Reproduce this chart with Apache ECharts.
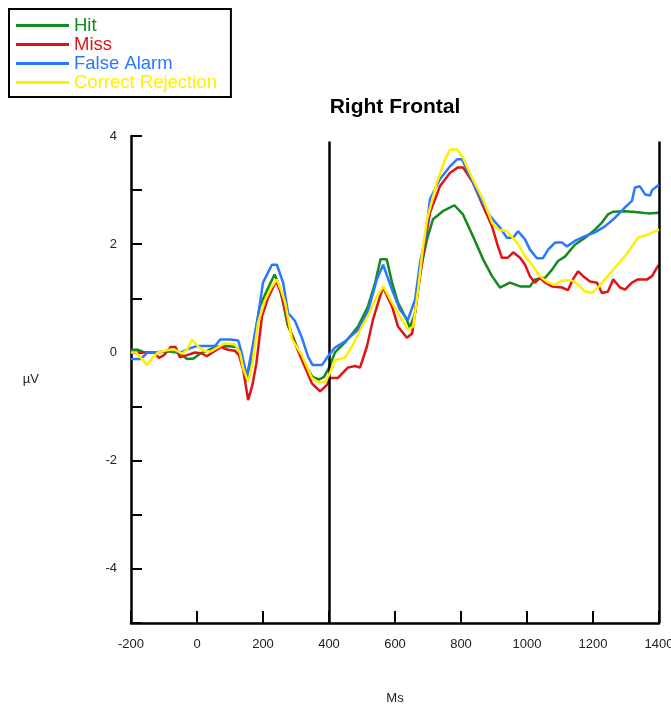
<!DOCTYPE html>
<html>
<head>
<meta charset="utf-8">
<script src="https://cdn.jsdelivr.net/npm/echarts@6/dist/echarts.min.js"></script>
<style>
  html, body { margin: 0; padding: 0; background: #fff; }
  #chart { width: 671px; height: 709px; }
</style>
</head>
<body>
<div id="chart"></div>
<script>
// Right Frontal ERP — four conditions, [ms, µV]
const hit = [[-200,0.05],[-180,0.05],[-160,0.0],[-120,0.0],[-90,0.02],[-60,0.0],[-45,-0.05],[-30,-0.12],[-10,-0.11],[10,-0.02],[30,0.03],[55,0.1],[90,0.12],[120,0.1],[130,0.0],[140,-0.3],[150,-0.54],[160,-0.35],[175,0.3],[190,0.85],[205,1.05],[220,1.25],[235,1.44],[245,1.3],[260,0.95],[275,0.5],[290,0.3],[310,0.0],[330,-0.25],[350,-0.45],[370,-0.5],[385,-0.45],[400,-0.28],[418,0.0],[448,0.18],[488,0.48],[518,0.85],[540,1.29],[556,1.72],[575,1.72],[591,1.29],[609,0.92],[636,0.6],[645,0.46],[661,0.73],[676,1.48],[697,2.09],[715,2.46],[745,2.61],[780,2.72],[806,2.55],[836,2.15],[867,1.72],[894,1.41],[918,1.2],[948,1.29],[979,1.22],[1009,1.22],[1024,1.35],[1055,1.38],[1076,1.53],[1094,1.69],[1115,1.77],[1145,1.99],[1176,2.12],[1206,2.27],[1227,2.4],[1245,2.55],[1261,2.6],[1297,2.61],[1336,2.59],[1367,2.57],[1400,2.58]];

const miss = [[-200,0],[-130,0],[-115,-0.1],[-100,-0.05],[-80,0.1],[-65,0.1],[-52,-0.09],[-30,-0.05],[-6,0],[15,-0.02],[30,-0.07],[55,0.03],[73,0.1],[94,0.05],[115,0.03],[127,-0.05],[140,-0.32],[155,-0.88],[168,-0.6],[180,-0.2],[197,0.67],[215,1.0],[240,1.32],[255,1.1],[270,0.7],[288,0.3],[318,-0.14],[348,-0.57],[373,-0.72],[394,-0.6],[403,-0.47],[427,-0.47],[457,-0.28],[479,-0.25],[494,-0.28],[515,0.11],[533,0.6],[555,1.04],[564,1.2],[591,0.85],[609,0.48],[636,0.27],[652,0.35],[670,1.16],[691,2.03],[706,2.58],[736,3.07],[767,3.32],[791,3.42],[806,3.42],[836,3.14],[867,2.7],[894,2.33],[912,1.96],[924,1.75],[942,1.75],[958,1.85],[979,1.75],[994,1.62],[1009,1.41],[1024,1.29],[1039,1.38],[1055,1.29],[1076,1.22],[1106,1.2],[1124,1.15],[1139,1.35],[1155,1.5],[1170,1.41],[1191,1.31],[1212,1.29],[1227,1.1],[1245,1.12],[1261,1.35],[1282,1.2],[1297,1.16],[1318,1.29],[1336,1.35],[1364,1.35],[1379,1.41],[1394,1.57],[1400,1.62]];

const falseAlarm = [[-200,-0.12],[-170,-0.12],[-150,0],[-127,0],[-100,0.02],[-79,0.05],[-48,0],[-20,0.08],[0,0.12],[55,0.12],[70,0.24],[100,0.24],[125,0.22],[135,0.0],[151,-0.44],[165,0.0],[185,0.67],[200,1.29],[227,1.62],[242,1.62],[261,1.29],[276,0.73],[297,0.58],[318,0.27],[336,-0.07],[350,-0.23],[379,-0.23],[397,-0.07],[418,0.09],[448,0.2],[488,0.42],[518,0.76],[545,1.35],[564,1.62],[591,1.16],[615,0.79],[639,0.6],[661,0.98],[676,1.66],[691,2.09],[706,2.83],[736,3.2],[767,3.44],[788,3.57],[803,3.57],[827,3.26],[858,2.86],[888,2.52],[918,2.31],[939,2.12],[958,2.12],[973,2.24],[994,2.09],[1009,1.9],[1030,1.74],[1048,1.74],[1064,1.9],[1085,2.03],[1106,2.03],[1121,1.96],[1145,2.06],[1176,2.15],[1206,2.22],[1236,2.33],[1267,2.49],[1297,2.68],[1318,2.8],[1327,3.05],[1342,3.07],[1358,2.92],[1373,2.9],[1379,3.0],[1400,3.1]];

const correctRejection = [[-200,0],[-185,0],[-170,-0.1],[-152,-0.23],[-135,-0.1],[-118,0],[-88,0.05],[-67,0.05],[-45,-0.02],[-30,0.05],[-15,0.24],[5,0.1],[24,0.02],[42,0.02],[65,0.1],[85,0.17],[115,0.15],[130,0.0],[140,-0.3],[155,-0.54],[168,-0.2],[185,0.54],[205,0.95],[225,1.2],[242,1.35],[255,1.15],[267,0.92],[288,0.24],[318,-0.05],[348,-0.47],[367,-0.55],[388,-0.55],[400,-0.42],[418,-0.14],[448,-0.1],[470,0.11],[500,0.48],[518,0.67],[545,1.04],[565,1.22],[591,0.92],[621,0.6],[639,0.42],[655,0.48],[670,1.16],[685,1.96],[697,2.46],[727,3.14],[752,3.57],[767,3.75],[788,3.75],[806,3.6],[836,3.2],[867,2.83],[894,2.4],[912,2.27],[939,2.24],[970,2.03],[994,1.78],[1015,1.62],[1039,1.41],[1064,1.29],[1085,1.25],[1106,1.33],[1136,1.33],[1155,1.25],[1176,1.13],[1197,1.1],[1215,1.2],[1236,1.35],[1267,1.57],[1297,1.78],[1318,1.96],[1336,2.12],[1367,2.18],[1400,2.27]];

const seriesNames = ['Hit', 'Miss', 'False Alarm', 'Correct Rejection'];
const seriesData = [hit, miss, falseAlarm, correctRejection];
const colors = ['#138a1e', '#e01414', '#2a78ff', '#fff000'];
const markerTimes = [400, 1400];

const FONT = '"Liberation Sans", Arial, sans-serif';
const chart = echarts.init(document.getElementById('chart'));

const series = seriesData.map((d, i) => ({
  name: seriesNames[i],
  type: 'line',
  data: d,
  showSymbol: false,
  symbol: 'none',
  color: colors[i],
  lineStyle: { color: colors[i], width: 2.5 },
  z: 3 + i,
}));

// vertical reference lines at 400 ms and 1400 ms
series.push({
  type: 'line',
  data: [],
  silent: true,
  markLine: {
    silent: true,
    symbol: 'none',
    label: { show: false },
    lineStyle: { color: '#000', width: 2.5, type: 'solid' },
    data: markerTimes.map(t => [{ coord: [t, 3.9] }, { coord: [t, -5] }]),
  },
});

chart.setOption({
  animation: false,
  backgroundColor: '#fff',
  textStyle: { fontFamily: FONT },
  title: {
    text: 'Right Frontal',
    left: 390,
    top: 92,
    textAlign: 'center',
    textStyle: { fontFamily: FONT, fontSize: 21, fontWeight: 'bold', color: '#000' },
  },
  legend: {
    orient: 'vertical',
    left: 9,
    top: 9,
    padding: [7, 14, 5, 7],
    borderColor: '#000',
    borderWidth: 2,
    itemWidth: 53,
    itemHeight: 3,
    itemGap: 0,
    icon: 'rect',
    selectedMode: false,
    data: seriesNames.map((n, i) => ({
      name: n,
      itemStyle: { color: colors[i] },
      textStyle: { color: colors[i] },
    })),
    textStyle: { fontFamily: FONT, fontSize: 18.5, lineHeight: 19 },
  },
  grid: { left: 131, right: 12, top: 136, bottom: 86, containLabel: false, outerBoundsMode: 'none' },
  xAxis: {
    type: 'value',
    min: -200,
    max: 1400,
    interval: 200,
    name: 'Ms',
    nameLocation: 'middle',
    nameGap: 69,
    nameTextStyle: { fontFamily: FONT, fontSize: 13, color: '#222' },
    axisLine: { onZero: false, lineStyle: { color: '#000', width: 2.5 } },
    axisTick: { inside: true, length: 12, lineStyle: { color: '#000', width: 2 } },
    axisLabel: {
      fontFamily: FONT, fontSize: 13, color: '#222', margin: 15,
      showMaxLabel: true, showMinLabel: true, hideOverlap: false,
      formatter: v => String(v),
    },
    splitLine: { show: false },
  },
  yAxis: {
    type: 'value',
    min: -5,
    max: 4,
    interval: 1,
    name: 'µV',
    nameLocation: 'middle',
    nameRotate: 0,
    nameGap: 92,
    nameTextStyle: { fontFamily: FONT, fontSize: 13, color: '#222' },
    axisLine: { onZero: false, lineStyle: { color: '#000', width: 2.5 } },
    axisTick: { inside: true, length: 11, lineStyle: { color: '#000', width: 2 } },
    axisLabel: {
      fontFamily: FONT, fontSize: 13, color: '#222', margin: 14,
      formatter: v => (v % 2 === 0 ? String(v) : ''),
    },
    splitLine: { show: false },
  },
  series,
});
</script>
</body>
</html>
